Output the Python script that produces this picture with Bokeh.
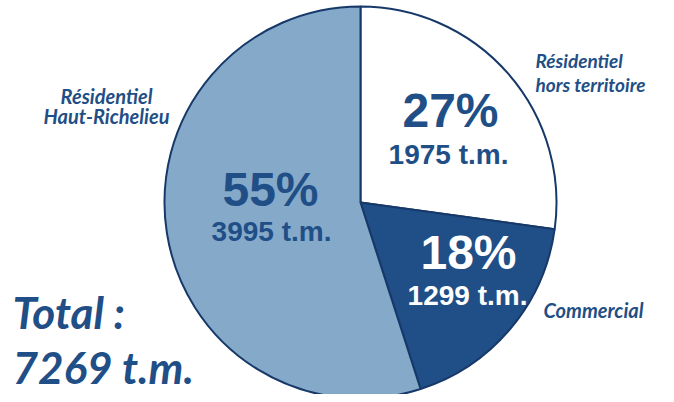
import math
from bokeh.plotting import figure
from bokeh.models import Range1d, ColumnDataSource
from bokeh.core.properties import value
from bokeh.embed import file_html
from bokeh.resources import INLINE

# ---- data ----
categories = ["Résidentiel hors territoire", "Commercial", "Résidentiel Haut-Richelieu"]
tonnes = [1975, 1299, 3995]
unit = "t.m."
colors = ["#ffffff", "#1f4f86", "#85a9c9"]
pct_colors = ["#1f4f86", "#ffffff", "#1f4f86"]
cat_label_lines = [["Résidentiel", "hors territoire"], ["Commercial"], ["Résidentiel", "Haut-Richelieu"]]
total_label = "Total :"

# ---- layout (page pixel coordinates, y downward; text y = vertical middle) ----
W, H = 658, 394
cx, cy, R = 360, 202, 196
pct_pos = [(450, 110), (468, 252), (270, 189)]
val_pos = [(448, 154), (467, 295), (271, 231)]
cat_pos = [(535, 60, "left", 24, "19px"), (543, 309, "left", 20, "20px"),
           (106, 95, "center", 20, "20px")]
total_pos = (12, 311)
total_val_pos = (12, 366)

p = figure(width=W, height=H, output_backend="svg", toolbar_location=None,
           x_range=Range1d(0, W), y_range=Range1d(-H, 0),
           min_border=0)
p.axis.visible = False
p.grid.visible = False
p.outline_line_color = None
p.background_fill_color = "#ffffff"
p.border_fill_color = "#ffffff"

total = sum(tonnes)
start = math.pi / 2
starts, ends = [], []
for v in tonnes:
    ang = 2 * math.pi * v / total
    starts.append(start)
    ends.append(start - ang)
    start -= ang

src = ColumnDataSource(dict(start=starts, end=ends, color=colors))
p.wedge(x=cx, y=-cy, radius=R, start_angle="start", end_angle="end",
        direction="clock", fill_color="color", line_color="#17396a",
        line_width=2, source=src)

pct_text = [f"{round(v / total * 100)}%" for v in tonnes]
val_text = [f"{v} {unit}" for v in tonnes]

p.text(x=[q[0] for q in pct_pos], y=[-q[1] for q in pct_pos], text=pct_text,
       text_color=pct_colors, text_font=value("Liberation Sans"),
       text_font_style="bold", text_font_size="48px",
       text_align="center", text_baseline="middle")
p.text(x=[q[0] for q in val_pos], y=[-q[1] for q in val_pos], text=val_text,
       text_color=pct_colors, text_font=value("Liberation Sans"),
       text_font_style="bold", text_font_size="28px",
       text_align="center", text_baseline="middle")

for lines, (lx, ly, al, dy, fs) in zip(cat_label_lines, cat_pos):
    n = len(lines)
    ys = [-(ly + i * dy) for i in range(n)]
    p.text(x=[lx] * n, y=ys, text=lines, text_color="#1f4f86",
           text_font=value("Lato"), text_font_style="bold italic",
           text_font_size=fs, text_align=al, text_baseline="middle")

p.text(x=[total_pos[0]], y=[-total_pos[1]], text=[total_label],
       text_color="#1f4f86", text_font=value("Lato"),
       text_font_style="bold italic", text_font_size="44px",
       text_align="left", text_baseline="middle")
p.text(x=[total_val_pos[0]], y=[-total_val_pos[1]], text=[f"{total} {unit}"],
       text_color="#1f4f86", text_font=value("Lato"),
       text_font_style="bold italic", text_font_size="44px",
       text_align="left", text_baseline="middle")

open("out.html", "w").write(file_html(p, INLINE))
